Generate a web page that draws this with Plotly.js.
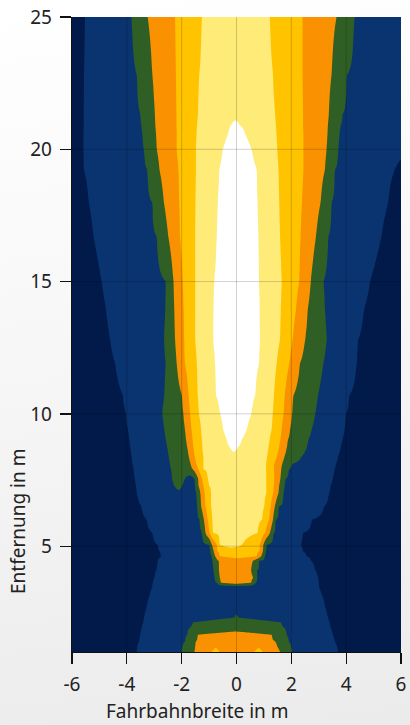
<!DOCTYPE html>
<html><head><meta charset="utf-8">
<script src="https://cdn.plot.ly/plotly-3.0.1.min.js"></script>
<style>
html,body{margin:0;padding:0;width:410px;height:725px;overflow:hidden;
background:linear-gradient(172deg,#ffffff 0%,#f7f7f7 45%,#ebebeb 100%);}
#chart{width:410px;height:725px;}
</style></head><body><div id="chart"></div>
<script>
// Band colours, lowest (0) to highest (6)
const bandColors = ['#011a49', '#0a3470', '#2f5f24', '#fa9100', '#ffc300', '#ffeb78', '#ffffff'];

// Rows of the contour map (Entfernung in m)
const rowY = [1.0, 1.4, 1.65, 1.9, 2.12, 2.3, 2.55, 3.0, 3.45, 3.62, 3.8, 4.1, 4.45, 4.62, 4.8, 5.05,
  5.5, 6.0, 6.5, 7.0, 7.3, 7.55, 7.9, 8.1, 8.4, 8.7, 9.02, 9.4, 10.03, 10.7, 11.92, 12.8, 13.94,
  15, 16.71, 18, 19.23, 20, 20.6, 20.9, 21.3, 22.8, 25];

// Band sequence across each row (left to right)
const rowBands = [
  [0,1,2,3,4,3,4,3,2,1,0],
  [0,1,2,3,2,1,0],
  [0,1,2,3,2,1,0],
  [0,1,2,1,0],
  [0,1,2,1,0],
  [0,1,2,1,0],
  [0,1,0],
  [0,1,0],
  [0,1,0],
  [0,1,2,3,2,1,0],
  [0,1,2,3,2,1,0],
  [0,1,2,3,2,1,0],
  [0,1,2,3,2,1,0],
  [0,1,2,3,4,3,2,1,0],
  [0,1,2,3,4,3,2,1,0],
  [0,1,2,3,4,5,4,3,2,1,0],
  [0,1,2,3,4,5,4,3,2,1,0],
  [0,1,2,3,4,5,4,3,2,1,0],
  [0,1,2,3,4,5,4,3,2,1,0],
  [0,1,2,3,4,5,4,3,2,1,0],
  [0,1,2,1,2,3,4,5,4,3,2,1,0],
  [0,1,2,1,2,3,4,5,4,3,2,1,0],
  [0,1,2,3,4,5,4,3,2,1,0],
  [0,1,2,3,4,5,4,3,2,1,0],
  [0,1,2,3,4,5,4,3,2,1,0],
  [0,1,2,3,4,5,6,5,4,3,2,1,0],
  [0,1,2,3,4,5,6,5,4,3,2,1,0],
  [0,1,2,3,4,5,6,5,4,3,2,1,0],
  [0,1,2,3,4,5,6,5,4,3,2,1,0],
  [0,1,2,3,4,5,6,5,4,3,2,1,0],
  [0,1,2,3,4,5,6,5,4,3,2,1,0],
  [0,1,2,3,4,5,6,5,4,3,2,1,0],
  [0,1,2,3,4,5,6,5,4,3,2,1,0],
  [0,1,2,3,4,5,6,5,4,3,2,1,0],
  [0,1,2,3,4,5,6,5,4,3,2,1,0],
  [0,1,2,3,4,5,6,5,4,3,2,1,0],
  [0,1,2,3,4,5,6,5,4,3,2,1,0],
  [0,1,2,3,4,5,6,5,4,3,2,1],
  [0,1,2,3,4,5,6,5,4,3,2,1],
  [0,1,2,3,4,5,6,5,4,3,2,1],
  [0,1,2,3,4,5,4,3,2,1],
  [0,1,2,3,4,5,4,3,2,1],
  [0,1,2,3,4,5,4,3,2,1]
];

// Band borders along each row (Fahrbahnbreite in m)
const rowEdges = [
  [-3.64,-2.0,-1.54,-0.9,-0.62,0.66,0.95,1.6,2.02,3.70],
  [-3.56,-1.88,-1.48,1.42,1.9,3.58],
  [-3.5,-1.8,-1.42,1.28,1.83,3.5],
  [-3.45,-1.72,1.76,3.44],
  [-3.40,-1.58,1.62,3.38],
  [-3.37,-0.07,0.06,3.33],
  [-3.32,3.28],
  [-3.22,3.18],
  [-3.08,3.02],
  [-3.05,-0.72,-0.58,0.55,0.70,3.0],
  [-3.0,-0.79,-0.62,0.61,0.76,2.97],
  [-2.92,-0.84,-0.64,0.55,0.76,2.86],
  [-2.86,-0.88,-0.67,0.61,0.84,2.72],
  [-2.73,-0.92,-0.78,-0.62,0.75,0.90,1.04,2.55],
  [-2.80,-0.95,-0.83,-0.70,0.84,0.96,1.08,2.42],
  [-2.88,-0.99,-0.90,-0.72,-0.61,0.20,0.86,0.98,1.10,2.33],
  [-3.07,-1.25,-1.13,-0.98,-0.85,0.78,1.04,1.22,1.36,2.41],
  [-3.28,-1.33,-1.19,-1.05,-0.88,0.95,1.19,1.33,1.44,2.75],
  [-3.47,-1.42,-1.29,-1.13,-0.95,1.03,1.25,1.40,1.55,3.2],
  [-3.63,-1.45,-1.32,-1.16,-0.95,1.10,1.34,1.53,1.72,3.37],
  [-3.66,-2.27,-1.98,-1.51,-1.39,-1.21,-1.0,1.10,1.36,1.56,1.76,3.44],
  [-3.70,-2.34,-1.88,-1.53,-1.40,-1.26,-1.06,1.10,1.38,1.60,1.80,3.50],
  [-3.75,-2.38,-1.58,-1.39,-1.21,1.09,1.37,1.63,1.90,3.57],
  [-3.78,-2.42,-1.66,-1.46,-1.22,1.08,1.38,1.66,2.02,3.62],
  [-3.82,-2.47,-1.73,-1.53,-1.23,1.12,1.48,1.75,2.38,3.70],
  [-3.86,-2.52,-1.78,-1.57,-1.25,-0.22,0.02,1.17,1.55,1.82,2.55,3.78],
  [-3.90,-2.57,-1.84,-1.60,-1.27,-0.36,0.19,1.22,1.60,1.88,2.62,3.85],
  [-3.95,-2.63,-1.88,-1.64,-1.30,-0.48,0.37,1.28,1.65,1.95,2.74,3.93],
  [-4.03,-2.70,-1.93,-1.70,-1.38,-0.60,0.55,1.33,1.72,2.02,2.88,4.0],
  [-4.14,-2.63,-1.99,-1.75,-1.42,-0.75,0.68,1.37,1.76,2.08,2.97,4.12],
  [-4.43,-2.57,-2.18,-1.88,-1.45,-0.79,0.83,1.47,1.93,2.32,3.17,4.38],
  [-4.61,-2.64,-2.24,-1.91,-1.51,-0.85,0.86,1.59,2.05,2.50,3.29,4.44],
  [-4.76,-2.60,-2.27,-1.93,-1.51,-0.84,0.85,1.62,2.17,2.60,3.22,4.65],
  [-4.92,-2.57,-2.30,-1.96,-1.51,-0.82,0.83,1.65,2.29,2.71,3.17,4.87],
  [-5.22,-2.91,-2.49,-2.06,-1.51,-0.72,0.80,1.59,2.34,2.90,3.35,5.29],
  [-5.39,-3.08,-2.65,-2.09,-1.50,-0.68,0.77,1.56,2.39,3.07,3.47,5.54],
  [-5.56,-3.25,-2.81,-2.12,-1.48,-0.63,0.74,1.53,2.44,3.23,3.59,5.78],
  [-5.59,-3.37,-2.91,-2.18,-1.48,-0.50,0.55,1.49,2.44,3.29,3.71],
  [-5.59,-3.43,-2.94,-2.18,-1.46,-0.30,0.31,1.46,2.44,3.32,3.76],
  [-5.58,-3.46,-2.96,-2.19,-1.44,-0.21,0.13,1.44,2.43,3.34,3.80],
  [-5.58,-3.50,-2.98,-2.19,-1.42,1.42,2.43,3.37,3.85],
  [-5.56,-3.64,-3.07,-2.21,-1.36,1.34,2.41,3.47,4.02],
  [-5.53,-3.82,-3.24,-2.24,-1.27,1.22,2.41,3.65,4.29]
];

const xTicks = [-6, -4, -2, 0, 2, 4, 6];
const yTicks = [5, 10, 15, 20, 25];
const xRange = [-6, 6];
const yRange = [1, 25];

// sample grid across the road width
const xs = [];
for (let i = 0; i <= 300; i++) xs.push(+(xRange[0] + i * 0.04).toFixed(2));

function interp(ax, av, x) {
  if (x <= ax[0]) return av[0];
  for (let i = 1; i < ax.length; i++) {
    if (x <= ax[i]) {
      const t = (x - ax[i - 1]) / (ax[i] - ax[i - 1] || 1);
      return av[i - 1] + t * (av[i] - av[i - 1]);
    }
  }
  return av[av.length - 1];
}

function rowProfile(bands, edges) {
  const ax = [xRange[0]], av = [bands[0]];
  for (let i = 0; i < edges.length; i++) {
    if (i > 0) { ax.push((edges[i - 1] + edges[i]) / 2); av.push(bands[i]); }
    ax.push(edges[i]); av.push((bands[i] + bands[i + 1]) / 2);
  }
  ax.push(xRange[1]); av.push(bands[bands.length - 1]);
  return xs.map(x => interp(ax, av, x));
}

const z = rowY.map((y, i) => rowProfile(rowBands[i], rowEdges[i]));

const n = bandColors.length;
const colorscale = [];
bandColors.forEach((c, k) => {
  const lo = k === 0 ? 0 : (2 * k - 1) / (2 * (n - 1));
  const hi = k === n - 1 ? 1 : (2 * k + 1) / (2 * (n - 1));
  colorscale.push([lo, c], [hi, c]);
});

const trace = {
  type: 'contour', x: xs, y: rowY, z: z,
  autocontour: false,
  contours: { start: 0.5, end: n - 1.5, size: 1, coloring: 'fill', showlines: false },
  line: { width: 0, smoothing: 0.8 },
  colorscale: colorscale, showscale: false, hoverinfo: 'skip'
};

// grid lines drawn over the map, at the tick positions
const gridColor = 'rgba(0,0,0,0.18)';
const gridShapes = [];
xTicks.filter(v => v > xRange[0] && v < xRange[1]).forEach(v => gridShapes.push({
  type: 'line', xref: 'x', yref: 'paper', x0: v, x1: v, y0: 0, y1: 1,
  line: { color: gridColor, width: 1 }, layer: 'above'
}));
yTicks.filter(v => v > yRange[0] && v < yRange[1]).forEach(v => gridShapes.push({
  type: 'line', xref: 'paper', yref: 'y', x0: 0, x1: 1, y0: v, y1: v,
  line: { color: gridColor, width: 1 }, layer: 'above'
}));

const fontFam = 'Noto Sans, Open Sans, sans-serif';
const axisCommon = {
  ticks: 'outside', ticklen: 11, tickwidth: 1.3, tickcolor: '#111',
  showline: true, linecolor: '#111', linewidth: 1.3,
  showgrid: false, zeroline: false, layer: 'above traces',
  tickfont: { family: fontFam, size: 19, color: '#222' }
};

const layout = {
  width: 410, height: 725,
  margin: { l: 72, r: 9, t: 17, b: 73 },
  paper_bgcolor: 'rgba(0,0,0,0)', plot_bgcolor: 'rgba(0,0,0,0)',
  showlegend: false,
  xaxis: Object.assign({}, axisCommon, { range: xRange, tickmode: 'array', tickvals: xTicks,
    ticktext: xTicks.map(String), ticklabelstandoff: 4 }),
  yaxis: Object.assign({}, axisCommon, { range: yRange, tickmode: 'array', tickvals: yTicks,
    ticktext: yTicks.map(String), ticklabelstandoff: 4 }),
  shapes: gridShapes,
  annotations: [
    { text: 'Fahrbahnbreite in m', xref: 'paper', yref: 'paper', x: (197 - 72) / 329, y: -(711 - 652) / 635,
      xanchor: 'center', yanchor: 'middle', showarrow: false, font: { family: fontFam, size: 19, color: '#222' } },
    { text: 'Entfernung in m', xref: 'paper', yref: 'paper', x: (18 - 72) / 329, y: (652 - 522) / 635,
      xanchor: 'center', yanchor: 'middle', textangle: -90, showarrow: false,
      font: { family: fontFam, size: 19, color: '#222' } }
  ]
};

Plotly.newPlot('chart', [trace], layout, { displayModeBar: false, staticPlot: true });
</script>
</body></html>
